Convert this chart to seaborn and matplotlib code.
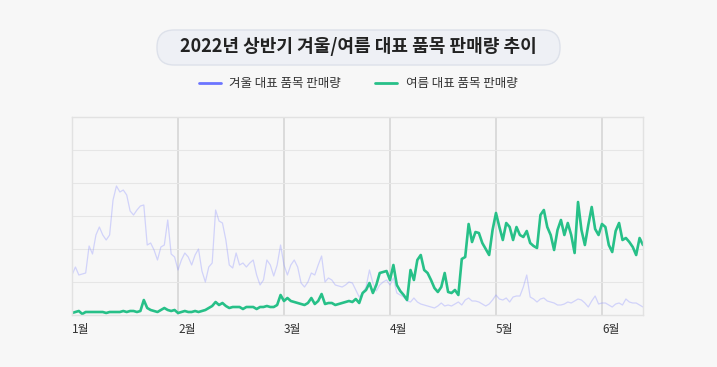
import numpy as np
import pandas as pd
import seaborn as sns
import matplotlib.pyplot as plt
from matplotlib.lines import Line2D
from matplotlib.patches import FancyBboxPatch
from matplotlib.transforms import IdentityTransform

# 일별 판매량 (1/1 ~ 6/16)
winter = [40, 48, 40, 41, 42, 69, 61, 80, 88, 80, 75, 80, 115, 129, 123, 125, 120, 104, 100, 105,
          109, 110, 70, 72, 65, 55, 68, 70, 95, 61, 58,
          45, 55, 62, 58, 50, 60, 66, 44, 33, 48, 52, 105, 94, 92, 75, 50, 47, 62, 50, 52,
          48, 52, 55, 40, 30, 35, 55, 50, 39, 50, 70,
          50, 40, 50, 55, 48, 32, 28, 33, 42, 40, 50, 59, 33, 37, 35, 30, 29, 28, 30, 33,
          32, 25, 18, 22, 28, 45, 32, 24, 30, 33, 35,
          30, 37, 22, 20, 18, 14, 13, 17, 13, 11, 10, 9, 8, 7, 9, 12, 9, 10, 9, 11,
          13, 10, 15, 17, 14, 14, 13, 11, 9, 11, 15,
          20, 16, 15, 17, 13, 18, 19, 19, 28, 40, 18, 16, 13, 16, 17, 14, 13, 12, 10, 10,
          11, 13, 12, 14, 16, 15, 12, 8, 14, 19, 11,
          12, 12, 10, 8, 11, 12, 10, 16, 13, 12, 12, 10, 8]
summer = [2, 3, 4, 1, 3, 3, 3, 3, 3, 3, 2, 3, 3, 3, 3, 4, 3, 4, 4, 3,
          4, 15, 7, 5, 4, 3, 5, 7, 5, 4, 5,
          2, 3, 4, 3, 3, 4, 3, 4, 5, 7, 9, 13, 10, 12, 9, 7, 8, 8, 8, 6,
          8, 8, 8, 6, 8, 8, 9, 8, 8, 10, 20,
          14, 17, 14, 13, 12, 11, 10, 12, 17, 11, 14, 21, 11, 12, 12, 10, 11, 12, 13, 14,
          13, 16, 12, 22, 25, 32, 22, 30, 42, 43, 44,
          35, 50, 30, 24, 20, 15, 45, 35, 55, 60, 45, 42, 35, 27, 23, 28, 42, 23, 22, 25,
          20, 56, 58, 91, 73, 83, 82, 72, 66, 60, 85,
          102, 88, 75, 92, 88, 75, 88, 80, 78, 84, 72, 69, 67, 100, 105, 88, 80, 65, 85, 95,
          80, 92, 80, 62, 113, 85, 70, 90, 108, 86, 80,
          91, 88, 70, 63, 84, 92, 75, 77, 73, 68, 60, 77, 70]
month_labels = ["1월", "2월", "3월", "4월", "5월", "6월"]
month_pos = [0, 31, 62, 93, 124, 155]

df = pd.DataFrame({"day": np.arange(len(winter)), "winter": winter, "summer": summer})

sns.set_style("white")
plt.rcParams["font.family"] = ["Noto Sans CJK KR", "DejaVu Sans"]

fig = plt.figure(figsize=(7.17, 3.67), dpi=100, facecolor="#f7f7f7")
ax = fig.add_axes([72 / 717, 52 / 367, 571 / 717, 198 / 367])
ax.set_facecolor("#f7f7f7")

blue = "#6b74ff"
green = "#27c088"
sns.lineplot(data=df, x="day", y="winter", ax=ax, color="#8a8fff", alpha=0.35, lw=0.9)
sns.lineplot(data=df, x="day", y="summer", ax=ax, color=green, lw=1.9)

ax.set_xlim(0, len(winter) - 1)
ax.set_ylim(0, 198)
ax.set_yticks(np.arange(0, 199, 33))
ax.set_yticklabels([])
ax.set_xticks(month_pos)
ax.set_xticklabels(month_labels, ha="left", fontsize=8.5, color="#333333")
ax.tick_params(axis="both", length=0, pad=6)
ax.set_xlabel("")
ax.set_ylabel("")
ax.grid(axis="y", color="#e6e6e6", lw=0.8)
ax.grid(axis="x", color="#d8d8d8", lw=1.3)
for s in ax.spines.values():
    s.set_color("#e2e2e2")
    s.set_linewidth(1)

# 제목 상자
box = FancyBboxPatch((157, 367 - 65), 403, 35, boxstyle="round,pad=0,rounding_size=17",
                     transform=IdentityTransform(), fc="#eef0f5", ec="#dde1ea", lw=1)
fig.patches.append(box)
fig.text(358.5 / 717, 1 - 47 / 367, "2022년 상반기 겨울/여름 대표 품목 판매량 추이", ha="center", va="center",
         fontsize=13, fontweight="bold", color="#222222")

handles = [Line2D([], [], color=blue, lw=2), Line2D([], [], color=green, lw=2)]
fig.legend(handles, ["겨울 대표 품목 판매량", "여름 대표 품목 판매량"], loc="center",
           bbox_to_anchor=(358 / 717, 1 - 84 / 367), ncol=2, frameon=False, fontsize=9,
           handlelength=1.8, handletextpad=0.65, columnspacing=2.7, labelcolor="#333333")

fig.savefig("out.png", dpi=100, facecolor=fig.get_facecolor())
